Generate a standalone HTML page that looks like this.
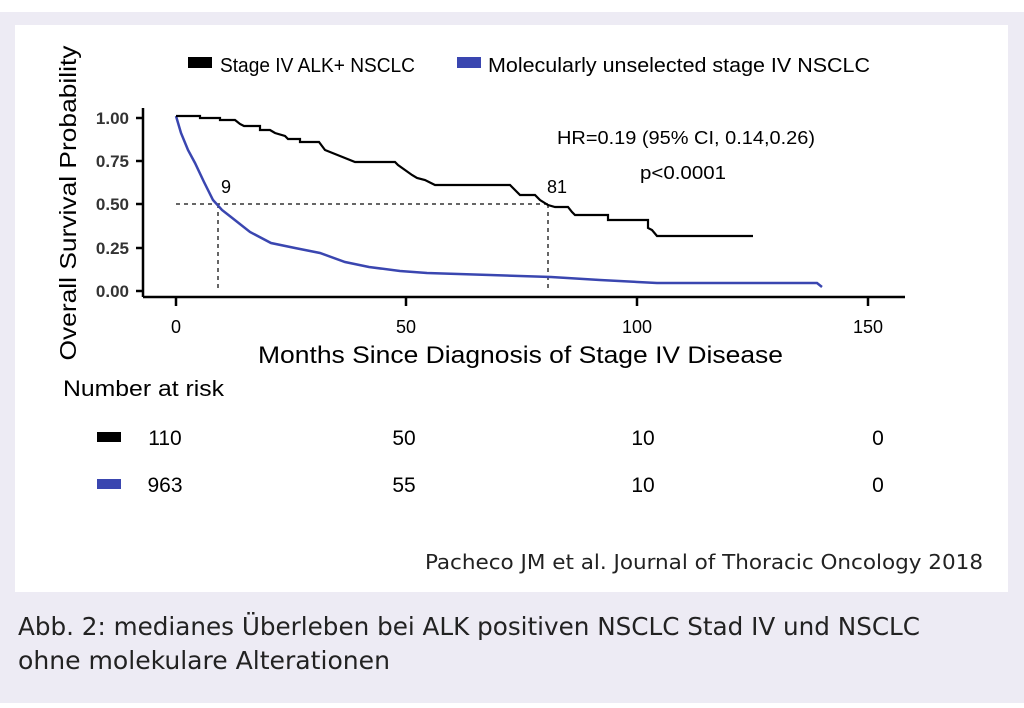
<!DOCTYPE html>
<html><head><meta charset="utf-8"><style>
body{margin:0;width:1024px;height:708px;background:#fff;overflow:hidden;position:relative;font-family:"Liberation Sans",sans-serif}
#g{position:absolute;left:0;top:12px;width:1024px;height:691px;background:#edebf4}
#w{position:absolute;left:15px;top:25px;width:993px;height:567px;background:#fff}
</style></head><body>
<div id="g"></div><div id="w"></div>
<svg width="1024" height="708" style="position:absolute;left:0;top:0" font-family="Liberation Sans, sans-serif">
<rect x="188" y="57" width="24" height="11" fill="#000"/>
<text x="220" y="72" font-size="20" textLength="195" lengthAdjust="spacingAndGlyphs">Stage IV ALK+ NSCLC</text>
<rect x="457" y="57" width="24" height="11" fill="#3a46b0"/>
<text x="488" y="72" font-size="20" textLength="382" lengthAdjust="spacingAndGlyphs">Molecularly unselected stage IV NSCLC</text>
<text transform="translate(76,203) rotate(-90)" font-size="23" text-anchor="middle" textLength="315" lengthAdjust="spacingAndGlyphs">Overall Survival Probability</text>
<g stroke="#000" stroke-width="2.5" fill="none">
<line x1="143" y1="108" x2="143" y2="297"/>
<line x1="143" y1="297" x2="905" y2="297"/>
<line x1="136" y1="118" x2="143" y2="118"/><line x1="136" y1="161" x2="143" y2="161"/><line x1="136" y1="204" x2="143" y2="204"/><line x1="136" y1="248" x2="143" y2="248"/><line x1="136" y1="291" x2="143" y2="291"/>
<line x1="176" y1="297" x2="176" y2="306"/><line x1="406" y1="297" x2="406" y2="306"/><line x1="637" y1="297" x2="637" y2="306"/><line x1="868" y1="297" x2="868" y2="306"/>
</g>
<g font-size="17" font-weight="bold" fill="#333" text-anchor="end">
<text x="129" y="124">1.00</text><text x="129" y="167">0.75</text><text x="129" y="210">0.50</text><text x="129" y="254">0.25</text><text x="129" y="297">0.00</text></g>
<g font-size="18" text-anchor="middle"><text x="176" y="333">0</text><text x="406" y="333">50</text><text x="637" y="333">100</text><text x="868" y="333">150</text></g>
<text x="258" y="363" font-size="24" textLength="525" lengthAdjust="spacingAndGlyphs">Months Since Diagnosis of Stage IV Disease</text>
<g stroke="#333" stroke-width="1.5" stroke-dasharray="4,4" fill="none">
<line x1="176" y1="204" x2="548" y2="204"/><line x1="218" y1="204" x2="218" y2="291"/><line x1="548" y1="204" x2="548" y2="291"/></g>
<polyline fill="none" stroke="#3a46b0" stroke-width="2.5" points="176,116 181,133 188,150 195,163 204,182 213,200 222,210 231,217 250,232 271,243 295,248 320,253 345,262 369,267 400,271 427,273 490,275 551,277 600,280 657,283 760,283 817,283 822,287"/>
<polyline fill="none" stroke="#000" stroke-width="2.2" points="176,116 200,116 200,118 220,118 220,120 235,120 240,124 244,126 260,126 260,130 270,130 275,133 285,136 288,139 300,139 300,142 319,142 325,150 340,156 355,162 395,162 398,165 405,170 412,175 417,178 425,180 435,185 510,185 515,190 520,195 535,195 540,200 548,205 555,207 568,207 572,212 575,215 608,215 608,220 648,220 648,228 652,230 657,236 753,236"/>
<text x="221" y="193" font-size="18">9</text>
<text x="547" y="193" font-size="18">81</text>
<text x="557" y="144" font-size="18" textLength="258" lengthAdjust="spacingAndGlyphs">HR=0.19 (95% CI, 0.14,0.26)</text>
<text x="640" y="179" font-size="18" textLength="86" lengthAdjust="spacingAndGlyphs">p&lt;0.0001</text>
<text x="63" y="396" font-size="22" textLength="161" lengthAdjust="spacingAndGlyphs">Number at risk</text>
<rect x="97" y="432" width="24" height="10" fill="#000"/>
<rect x="97" y="479" width="24" height="10" fill="#3a46b0"/>
<g font-size="21" text-anchor="middle"><text x="165" y="445">110</text><text x="404" y="445">50</text><text x="643" y="445">10</text><text x="878" y="445">0</text>
<text x="165" y="492">963</text><text x="404" y="492">55</text><text x="643" y="492">10</text><text x="878" y="492">0</text></g>
<text x="425" y="569" font-size="20" font-family="DejaVu Sans Condensed, Liberation Sans, sans-serif" fill="#222" textLength="558" lengthAdjust="spacingAndGlyphs">Pacheco JM et al. Journal of Thoracic Oncology 2018</text>
<g font-size="25" font-family="DejaVu Sans Condensed, Liberation Sans, sans-serif" fill="#222">
<text x="18" y="635" textLength="902" lengthAdjust="spacingAndGlyphs">Abb. 2: medianes Überleben bei ALK positiven NSCLC Stad IV und NSCLC</text>
<text x="18" y="669" textLength="372" lengthAdjust="spacingAndGlyphs">ohne molekulare Alterationen</text></g>
</svg>
</body></html>
